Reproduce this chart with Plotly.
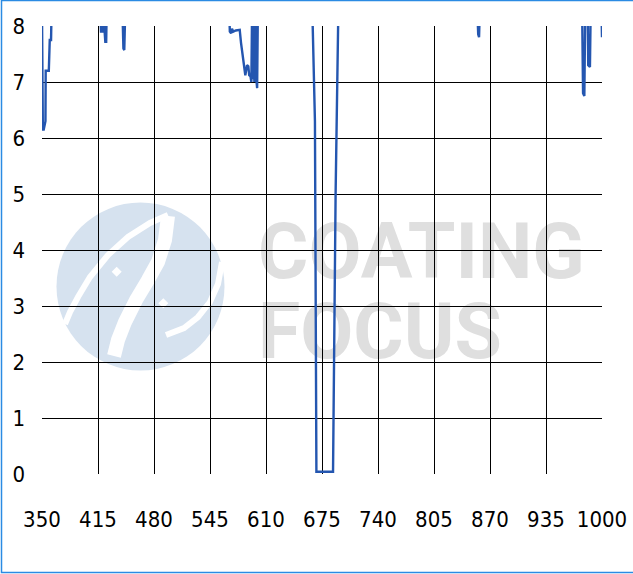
import plotly.graph_objects as go

# ---- data ----
wavelength = [350, 351, 352, 354, 354.3, 357.9, 359, 360.5, 361,
              417.8, 418.5, 420.5, 421.5, 422.5, 423.5, 424.5, 425,
              443.5, 444.5, 445.5, 446.5,
              567.5, 568, 569.5, 570.5, 572, 575, 579.5, 581, 583, 584.5, 586,
              588, 589.5, 590.5, 592, 593, 593.8, 594.5, 595.5, 596.5, 597.5,
              598.5, 599.7, 600.5,
              663.9, 664.2, 666.8, 668.5, 687.8, 690.8, 693.6, 693.9,
              855.5, 856.3, 857.3, 858,
              977, 978, 979.5, 980.5, 983.5, 984, 986, 986.8, 999.5, 1000]
transmittance = [8.2, 6.15, 6.15, 6.3, 7.2, 7.2, 7.75, 7.75, 8.2,
                 8.2, 7.9, 7.9, 8.05, 7.95, 7.72, 7.72, 8.2,
                 8.2, 7.6, 7.57, 8.2,
                 8.2, 7.9, 7.87, 7.95, 7.9, 7.92, 7.93, 7.7, 7.45, 7.2, 7.12,
                 7.3, 7.28, 7.12, 7.1, 7.0, 8.2, 7.05, 8.2, 7.0, 8.2,
                 7.1, 6.89, 8.2,
                 8.2, 8.0, 6.3, 0.04, 0.04, 5.0, 8.0, 8.2,
                 8.2, 7.85, 7.8, 8.2,
                 8.2, 6.8, 6.75, 8.2, 8.2, 7.3, 7.27, 8.2, 8.2, 7.8]
x_ticks = [350, 415, 480, 545, 610, 675, 740, 805, 870, 935, 1000]
y_ticks = [0, 1, 2, 3, 4, 5, 6, 7, 8]
watermark_lines = ["COATING", "FOCUS"]

# ---- layout geometry ----
W, H = 633, 574
ML, MR, MT, MB = 42, 31, 26, 100
PW, PH = W - ML - MR, H - MT - MB


def px(x):
    return (x - ML) / PW


def py(y):
    return (H - MB - y) / PH


def path(points):
    return "M" + " L".join(f"{px(a):.5f},{py(b):.5f}" for a, b in points)


FONT = "DejaVu Sans Condensed, sans-serif"

fig = go.Figure()
fig.add_trace(go.Scatter(x=wavelength, y=transmittance, mode="lines",
                         line=dict(color="#2456B0", width=2.4),
                         showlegend=False, hoverinfo="skip"))

shapes = []
# watermark logo
cx, cy, r = 140.5, 286.5, 84
shapes.append(dict(type="circle", xref="paper", yref="paper", layer="below",
                   x0=px(cx - r), x1=px(cx + r), y0=py(cy + r), y1=py(cy - r),
                   fillcolor="#D6E2EF", line=dict(width=0)))
bands = [
    ([(168, 215), (150, 223), (128, 237), (108, 255), (90, 277), (78, 297), (70, 312), (65, 324)], 6),
    ([(168, 216), (165, 240), (158, 262), (148, 280), (136, 300), (125, 322), (118, 340), (114, 356)], 14),
    ([(222, 262), (218, 284), (210, 302), (198, 317), (184, 328), (166, 335)], 6),
]
for pts, wdt in bands:
    shapes.append(dict(type="path", xref="paper", yref="paper", layer="below",
                       path=path(pts), line=dict(color="white", width=wdt)))
for dx, dy in [(116.7, 271.7), (163.3, 303.3)]:
    s = 5
    shapes.append(dict(type="path", xref="paper", yref="paper", layer="below",
                       path=path([(dx, dy - s), (dx + s, dy), (dx, dy + s), (dx - s, dy)]) + " Z",
                       fillcolor="white", line=dict(width=0)))
# watermark text
for txt, ymid in zip(watermark_lines, [246, 326]):
    shapes.append(dict(type="rect", xref="paper", yref="paper", layer="below",
                       x0=px(255), x1=px(600), y0=py(ymid + 30), y1=py(ymid - 30),
                       line=dict(width=0), fillcolor="rgba(0,0,0,0)",
                       label=dict(text=txt, textposition="middle left", padding=0,
                                  font=dict(family="Roboto", size=77, color="#DFDFDF",
                                            weight="bold"))))
# outer frame
shapes.append(dict(type="rect", xref="paper", yref="paper", layer="above",
                   x0=px(1.5), x1=px(700), y0=py(572.5), y1=py(0.5),
                   line=dict(color="#2B8BE3", width=1.5)))

fig.update_layout(
    width=W, height=H, autosize=False,
    margin=dict(l=ML, r=MR, t=MT, b=MB, pad=0, autoexpand=False),
    paper_bgcolor="white", plot_bgcolor="white",
    shapes=shapes,
    xaxis=dict(range=[350, 1000], tickvals=x_ticks, ticktext=[str(v) for v in x_ticks],
               showgrid=True, gridcolor="#000000", gridwidth=1, automargin=False,
               showline=False, zeroline=False, ticks="",
               ticklabelstandoff=30,
               tickfont=dict(family=FONT, size=22, color="#000000")),
    yaxis=dict(range=[0, 8], tickvals=y_ticks, automargin=False,
               showgrid=True, gridcolor="#000000", gridwidth=1,
               showline=False, zeroline=False, ticks="",
               ticklabelstandoff=16,
               tickfont=dict(family=FONT, size=22, color="#000000")),
)

fig.write_html("out.html", config={"displayModeBar": False},
               post_script="document.body.style.margin='0px';")
